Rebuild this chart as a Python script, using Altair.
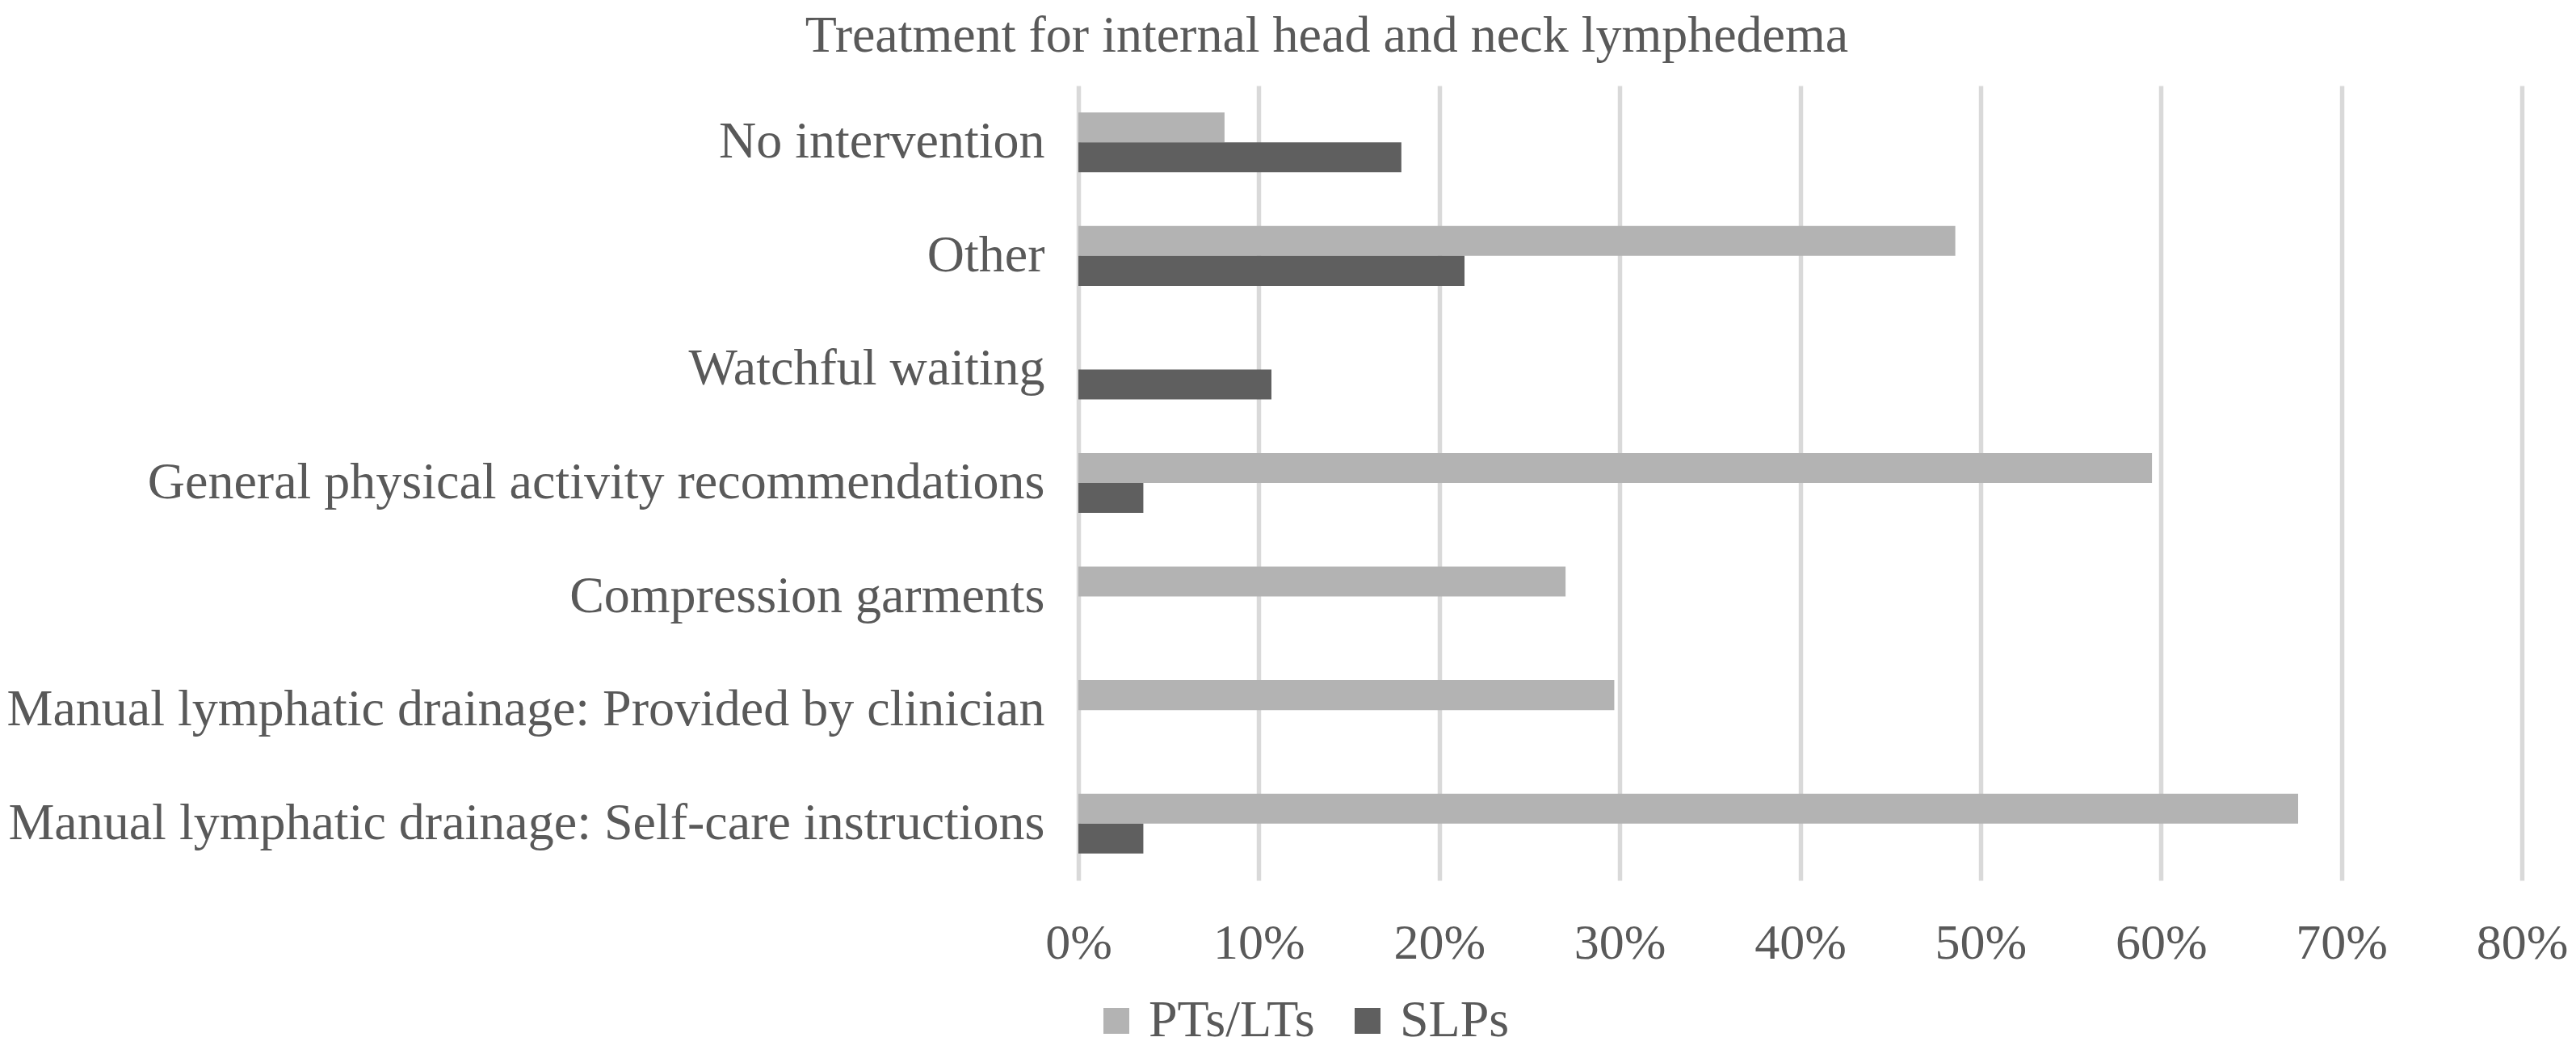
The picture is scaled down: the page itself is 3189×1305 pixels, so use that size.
import altair as alt
import pandas as pd

categories = [
    "No intervention",
    "Other",
    "Watchful waiting",
    "General physical activity recommendations",
    "Compression garments",
    "Manual lymphatic drainage: Provided by clinician",
    "Manual lymphatic drainage: Self-care instructions",
]
groups = ["PTs/LTs", "SLPs"]
pt_values = [0.081, 0.486, 0.0, 0.595, 0.270, 0.297, 0.676]
slp_values = [0.179, 0.214, 0.107, 0.036, 0.0, 0.0, 0.036]
x_ticks = [0, 0.1, 0.2, 0.3, 0.4, 0.5, 0.6, 0.7, 0.8]
colors = ["#b3b3b3", "#5f5f5f"]
title_text = "Treatment for internal head and neck lymphedema"

rows = []
for c, p, s in zip(categories, pt_values, slp_values):
    rows.append({"category": c, "group": groups[0], "value": p})
    rows.append({"category": c, "group": groups[1], "value": s})
df = pd.DataFrame(rows)

FONT = "Liberation Serif"
TXT = "#595959"

chart = alt.Chart(df).mark_bar().encode(
    y=alt.Y(
        "category:N",
        sort=categories,
        scale=alt.Scale(paddingInner=0.473, paddingOuter=0.2365),
        axis=alt.Axis(
            title=None,
            labelFont=FONT,
            labelFontSize=64,
            labelColor=TXT,
            labelPadding=42,
            labelLimit=3000,
            ticks=False,
            domain=False,
            grid=False,
        ),
    ),
    yOffset=alt.YOffset("group:N", sort=groups, scale=alt.Scale(paddingInner=0, paddingOuter=0)),
    x=alt.X(
        "value:Q",
        scale=alt.Scale(domain=[0, 0.8], nice=False),
        axis=alt.Axis(
            title=None,
            format=".0%",
            values=x_ticks,
            grid=True,
            gridColor="#d9d9d9",
            gridWidth=5.5,
            domain=False,
            ticks=False,
            tickSize=0,
            labelPadding=47,
            labelFont=FONT,
            labelFontSize=62,
            labelColor=TXT,
            labelFlush=False,
        ),
    ),
    color=alt.Color(
        "group:N",
        sort=groups,
        scale=alt.Scale(domain=groups, range=colors),
        legend=alt.Legend(
            title=None,
            orient="none",
            legendX=15,
            legendY=1126,
            direction="horizontal",
            symbolType="square",
            symbolSize=1024,
            symbolStrokeWidth=0,
            labelFont=FONT,
            labelFontSize=64,
            labelColor=TXT,
            labelOffset=8,
            labelLimit=1000,
            columnPadding=33,
            padding=0,
        ),
    ),
).properties(
    width=1787,
    height=984,
    autosize=alt.AutoSizeParams(type="none"),
    padding={"left": 1327, "top": 98, "right": 59, "bottom": 207},
    title=alt.TitleParams(
        text=title_text,
        font=FONT,
        fontSize=64,
        fontWeight="normal",
        color=TXT,
        anchor="middle",
        dx=-586,
        offset=29,
    ),
).configure(background="white").configure_view(stroke=None)

chart.save("out.html", embed_options={"renderer": "svg", "actions": False})
